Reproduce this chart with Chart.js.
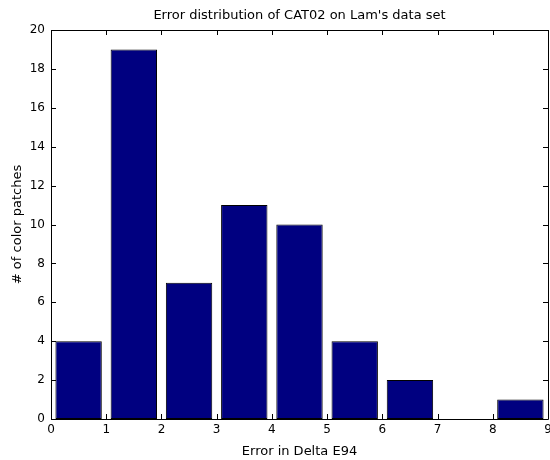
<!DOCTYPE html>
<html>
<head>
<meta charset="utf-8">
<script src="https://cdn.jsdelivr.net/npm/chart.js@4/dist/chart.umd.min.js"></script>
<style>
  html, body { margin: 0; padding: 0; background: #fff; }
  #wrap { width: 550px; height: 460px; }
</style>
</head>
<body>
<div id="wrap"><canvas id="myChart" width="550" height="460"></canvas></div>
<script>
// histogram bins (centres) and counts
const binCenters = [0.5, 1.5, 2.5, 3.5, 4.5, 5.5, 6.5, 7.5, 8.5];
const counts = [4, 19, 7, 11, 10, 4, 2, 0, 1];
const xTicks = [0, 1, 2, 3, 4, 5, 6, 7, 8, 9];
const yTicks = [0, 2, 4, 6, 8, 10, 12, 14, 16, 18, 20];

const fontFamily = '"DejaVu Sans", "Liberation Sans", Arial, sans-serif';

// matlab style box with inward ticks on all four sides
const boxTicks = {
  id: 'boxTicks',
  afterDraw(chart) {
    const {ctx, chartArea: a, scales: {x, y}} = chart;
    const len = 5;
    ctx.save();
    ctx.strokeStyle = '#000';
    ctx.lineWidth = 1;
    ctx.beginPath();
    ctx.rect(Math.round(a.left) + 0.5, Math.round(a.top) + 0.5,
      Math.round(a.right - a.left), Math.round(a.bottom - a.top));
    xTicks.forEach(v => {
      const px = Math.round(x.getPixelForValue(v)) + 0.5;
      ctx.moveTo(px, a.bottom); ctx.lineTo(px, a.bottom - len);
      ctx.moveTo(px, a.top); ctx.lineTo(px, a.top + len);
    });
    yTicks.forEach(v => {
      const py = Math.round(y.getPixelForValue(v)) + 0.5;
      ctx.moveTo(a.left, py); ctx.lineTo(a.left + len, py);
      ctx.moveTo(a.right, py); ctx.lineTo(a.right - len, py);
    });
    ctx.stroke();
    ctx.restore();
  }
};

const data = {
  datasets: [{
    label: '# of color patches',
    xAxisID: 'x',
    yAxisID: 'y',
    data: binCenters.map((c, i) => ({x: c, y: counts[i]})),
    backgroundColor: '#000080',
    borderColor: '#000000',
    borderWidth: 1,
    borderSkipped: false,
    barPercentage: 0.84,
    categoryPercentage: 1.0,
  }]
};

const options = {
  responsive: false,
  animation: false,
  layout: { padding: {left: 0, right: 2, top: 0, bottom: 0} },
  plugins: {
    legend: { display: false },
    tooltip: { enabled: false },
    title: { display: false },
  },
  scales: {
    x: {
      type: 'linear',
      min: 0,
      max: 9,
      offset: false,
      afterBuildTicks: s => { s.ticks = xTicks.map(v => ({value: v})); },
      afterFit: s => { s.height = 41; s.paddingLeft = 0; s.paddingRight = 0; },
      grid: { display: false, drawTicks: false },
      border: { display: false },
      ticks: {
        color: '#000',
        padding: 4,
        maxRotation: 0,
        autoSkip: false,
        font: { family: fontFamily, size: 12 },
      },
      title: {
        display: true,
        text: 'Error in Delta E94',
        color: '#000',
        font: { family: fontFamily, size: 13 },
        padding: { top: 0, bottom: 1 },
      },
    },
    // top axis only carries the title, so it is centred over the plot box
    top: {
      type: 'linear',
      position: 'top',
      min: 0,
      max: 9,
      offset: false,
      afterFit: s => { s.height = 30; s.paddingLeft = 0; s.paddingRight = 0; },
      grid: { display: false, drawTicks: false },
      border: { display: false },
      ticks: { display: false },
      title: {
        display: true,
        text: "Error distribution of CAT02 on Lam's data set",
        color: '#000',
        font: { family: fontFamily, size: 13 },
        padding: { top: 8, bottom: 0 },
      },
    },
    y: {
      min: 0,
      max: 20,
      afterBuildTicks: s => { s.ticks = yTicks.map(v => ({value: v})); },
      afterFit: s => { s.width = 51; s.paddingTop = 0; s.paddingBottom = 0; },
      grid: { display: false, drawTicks: false },
      border: { display: false },
      ticks: {
        color: '#000',
        padding: 6,
        autoSkip: false,
        font: { family: fontFamily, size: 12 },
      },
      title: {
        display: true,
        text: '# of color patches',
        color: '#000',
        font: { family: fontFamily, size: 13 },
        padding: { top: 10, bottom: 0 },
      },
    },
  },
};

new Chart(document.getElementById('myChart').getContext('2d'), {
  type: 'bar',
  data: data,
  options: options,
  plugins: [boxTicks],
});
</script>
</body>
</html>
